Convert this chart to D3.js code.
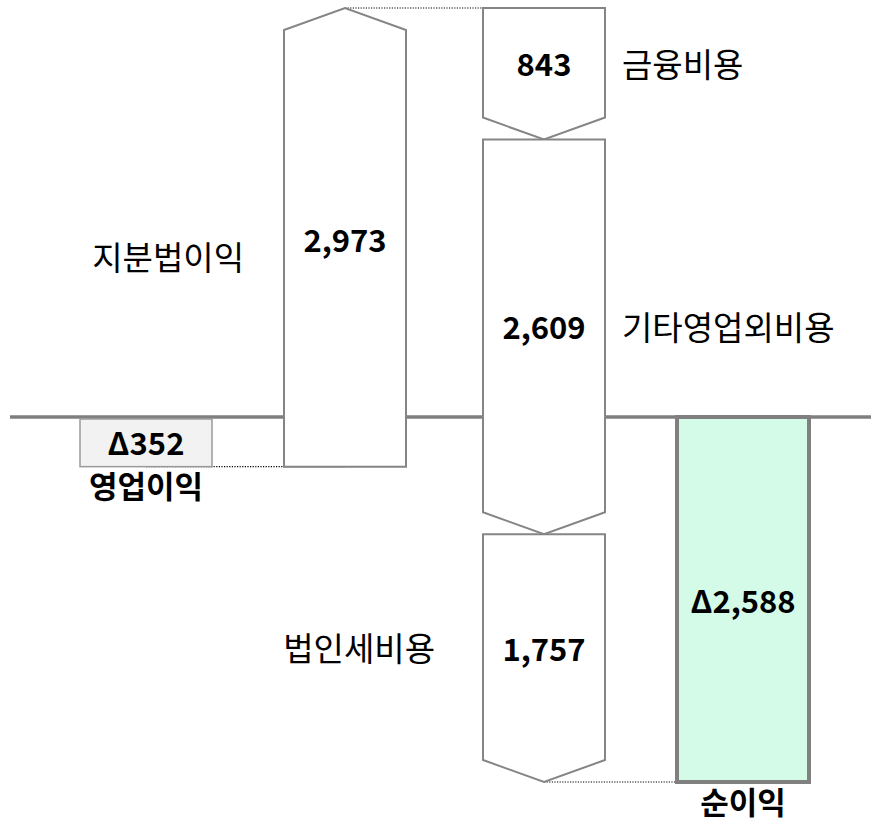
<!DOCTYPE html>
<html><head><meta charset="utf-8">
<script src="https://cdn.jsdelivr.net/npm/d3@7"></script>
<style>
html,body{margin:0;padding:0;background:#fff;}
svg{display:block;font-family:"Noto Sans CJK KR","Noto Sans",sans-serif;}
</style></head>
<body>
<svg id="chart" width="871" height="824"></svg>
<script>
// ---- data ----
const categories = ["영업이익", "지분법이익", "금융비용", "기타영업외비용", "법인세비용", "순이익"];
const values = [-352, 2973, -843, -2609, -1757, -2588];
const valueLabels = ["Δ352", "2,973", "843", "2,609", "1,757", "Δ2,588"];
const kinds = ["total", "up", "down", "down", "down", "total"];
const columns = ["영업이익", "지분법이익", "비용", "순이익"];
const columnOf = ["영업이익", "지분법이익", "비용", "비용", "비용", "순이익"];

// ---- layout ----
const W = 871, H = 824;
const svg = d3.select("#chart");

// waterfall cumulative
let run = 0;
const items = categories.map((c, i) => {
  let start, end;
  if (kinds[i] === "total") { start = 0; end = values[i]; run = values[i]; }
  else { start = run; end = run + values[i]; run = end; }
  return {cat: c, value: values[i], label: valueLabels[i], kind: kinds[i], col: columnOf[i], start, end};
});
const allVals = items.flatMap(d => [d.start, d.end]);
const vMin = d3.min(allVals), vMax = d3.max(allVals);

const x = d3.scalePoint().domain(columns).range([146, 743]);
const y = d3.scaleLinear().domain([vMin, 0, vMax]).range([782, 417, 8]);

const totalW = 132, arrowW = 122, tip = 22;
const grey = "#858585";

// zero line
svg.append("line").attr("x1", 10).attr("x2", W).attr("y1", y(0)).attr("y2", y(0))
  .attr("stroke", "#7f7f7f").attr("stroke-width", 3.5);

// dotted connectors (drawn beneath bars)
const conn = svg.append("g").attr("stroke", "#000").attr("stroke-width", 1.2).attr("stroke-dasharray", "1.2,1.4");
for (let i = 0; i < items.length - 1; i++) {
  const a = items[i], b = items[i + 1];
  if (a.col === b.col) continue;
  const yy = y(a.end);
  conn.append("line").attr("x1", x(a.col)).attr("x2", x(b.col)).attr("y1", yy).attr("y2", yy);
}

function arrowPath(d) {
  const cx = x(d.col), l = cx - arrowW / 2, r = cx + arrowW / 2;
  const y0 = y(d.start), y1 = y(d.end);
  const dir = y1 < y0 ? -1 : 1; // -1 up
  const sh = y1 - dir * tip;
  return `M${l},${y0}L${r},${y0}L${r},${sh}L${cx},${y1}L${l},${sh}Z`;
}

const g = svg.append("g");
items.forEach(d => {
  const cx = x(d.col);
  if (d.kind === "total") {
    const top = Math.min(y(0), y(d.end)), bot = Math.max(y(0), y(d.end));
    const isNet = d.cat === "순이익";
    g.append("rect").attr("x", cx - totalW / 2).attr("y", top + (isNet ? 0 : 2))
      .attr("width", totalW).attr("height", bot - top - (isNet ? 0 : 2))
      .attr("fill", isNet ? "#d4fbe8" : "#f2f2f2")
      .attr("stroke", isNet ? "#808080" : "#9a9a9a")
      .attr("stroke-width", isNet ? 4 : 1.5);
    d.labelY = (top + bot) / 2;
  } else {
    g.append("path").attr("d", arrowPath(d)).attr("fill", "#fff")
      .attr("stroke", grey).attr("stroke-width", 2).attr("stroke-linejoin", "miter");
    const y0 = y(d.start), y1 = y(d.end);
    const bodyEnd = y1 < y0 ? y1 + tip : y1 - tip;
    d.labelY = (y0 + bodyEnd) / 2;
  }
});

// value labels
const t = svg.append("g").attr("fill", "#000");
items.forEach(d => {
  t.append("text").attr("x", x(d.col)).attr("y", d.labelY + (d.cat === "지분법이익" ? -10 : 0))
    .attr("text-anchor", "middle").attr("dominant-baseline", "central")
    .attr("font-weight", "bold").attr("font-size", 31).text(d.label);
});

// category labels
items.forEach(d => {
  const cx = x(d.col);
  let tx, ty, anchor, bold = false;
  if (d.kind === "total") {
    tx = cx; ty = Math.max(y(0), y(d.end)) + 18; anchor = "middle"; bold = true;
  } else if (d.kind === "up") {
    tx = cx - arrowW / 2 - 40; ty = d.labelY + 8; anchor = "end";
  } else if (d.cat === "법인세비용") {
    tx = cx - arrowW / 2 - 48; ty = d.labelY; anchor = "end";
  } else {
    tx = cx + arrowW / 2 + 17; ty = d.labelY; anchor = "start";
  }
  t.append("text").attr("x", tx).attr("y", ty).attr("text-anchor", anchor)
    .attr("dominant-baseline", "central")
    .attr("font-weight", bold ? "bold" : "normal").attr("font-size", bold ? 31 : 33).text(d.cat);
});
</script>
</body></html>
